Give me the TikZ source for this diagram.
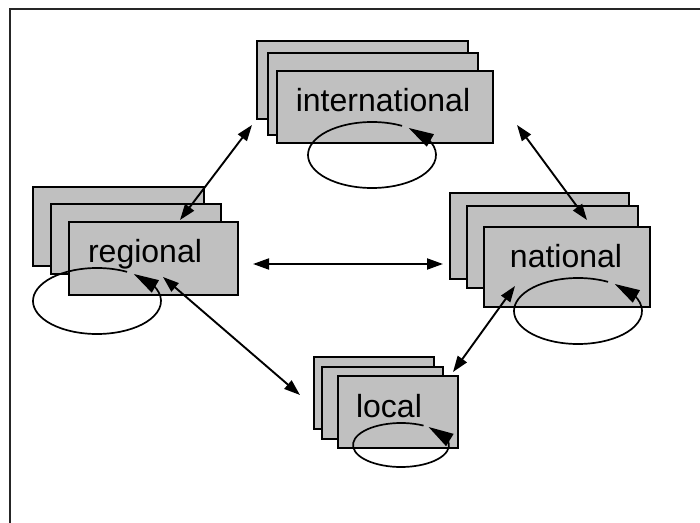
\documentclass[tikz,border=0pt]{standalone}
\usepackage{fontspec}
\setmainfont{Liberation Sans}
\usetikzlibrary{arrows.meta,bending}
\definecolor{cardgray}{RGB}{192,192,192}
\begin{document}
\begin{tikzpicture}[x=1pt,y=1pt,
  card/.style={draw=black, line width=1.9pt, fill=cardgray, inner sep=0pt, anchor=south west},
  cardtext/.style={anchor=base, inner sep=0pt, font=\fontsize{32}{38}\selectfont},
  conn/.style={line width=1.9pt, {Triangle[length=16pt,width=11pt]}-{Triangle[length=16pt,width=11pt]}},
  selfloop/.style={line width=1.7pt, -{Triangle[length=25pt,width=14pt]}},
]
\useasboundingbox (0,0) rectangle (700,522);

% outer frame (only the left and top edges fall inside the page)
\draw[line width=2.4pt, draw=black!85] (10,-10) -- (10,513) -- (710,513);

% ---- international stack
\node[card, minimum width=211pt, minimum height=78pt] (intl3) at (256,402) {};
\node[card, minimum width=210pt, minimum height=82pt] (intl2) at (267,386) {};
\node[card, minimum width=216pt, minimum height=72pt] (intl1) at (276,378) {};
\node[cardtext] (intlt) at (383,410) {international};
\coordinate (ic) at (372,367);
\draw[selfloop] ([shift={(62:64pt and 33pt)}]ic) arc[start angle=62, end angle=415, x radius=64pt, y radius=33pt];

% ---- regional stack
\node[card, minimum width=171pt, minimum height=79pt] (reg3) at (32,255) {};
\node[card, minimum width=170pt, minimum height=70pt] (reg2) at (50,247) {};
\node[card, minimum width=169pt, minimum height=73pt] (reg1) at (68,226) {};
\node[cardtext] (regt) at (145,259) {regional};
\coordinate (rc) at (97,221);
\draw[selfloop] ([shift={(62:64pt and 33pt)}]rc) arc[start angle=62, end angle=415, x radius=64pt, y radius=33pt];

% ---- national stack
\node[card, minimum width=179pt, minimum height=86pt] (nat3) at (449,242) {};
\node[card, minimum width=171pt, minimum height=82pt] (nat2) at (466,233) {};
\node[card, minimum width=166pt, minimum height=80pt] (nat1) at (483,214) {};
\node[cardtext] (natt) at (566,254) {national};
\coordinate (nc) at (578,211);
\draw[selfloop] ([shift={(62:64pt and 33pt)}]nc) arc[start angle=62, end angle=415, x radius=64pt, y radius=33pt];

% ---- local stack
\node[card, minimum width=120pt, minimum height=72pt] (loc3) at (313,92) {};
\node[card, minimum width=121pt, minimum height=72pt] (loc2) at (321,82) {};
\node[card, minimum width=120pt, minimum height=72pt] (loc1) at (337,73) {};
\node[cardtext] (loct) at (389,105) {local};
\coordinate (lc) at (401,77);
\draw[selfloop] ([shift={(62:48pt and 22pt)}]lc) arc[start angle=62, end angle=415, x radius=48pt, y radius=22pt];

% ---- connector end points
\coordinate (ir-a) at (252,397);
\coordinate (ir-b) at (180,302);
\coordinate (in-a) at (517,397);
\coordinate (in-b) at (587,302);
\coordinate (rn-a) at (253,258);
\coordinate (rn-b) at (443,258);
\coordinate (rl-a) at (163,245);
\coordinate (rl-b) at (300,127);
\coordinate (nl-a) at (515,236);
\coordinate (nl-b) at (453,150);

\draw[conn] (ir-a) -- (ir-b);
\draw[conn] (in-a) -- (in-b);
\draw[conn] (rn-a) -- (rn-b);
\draw[conn] (rl-a) -- (rl-b);
\draw[conn] (nl-a) -- (nl-b);
\end{tikzpicture}
\end{document}
